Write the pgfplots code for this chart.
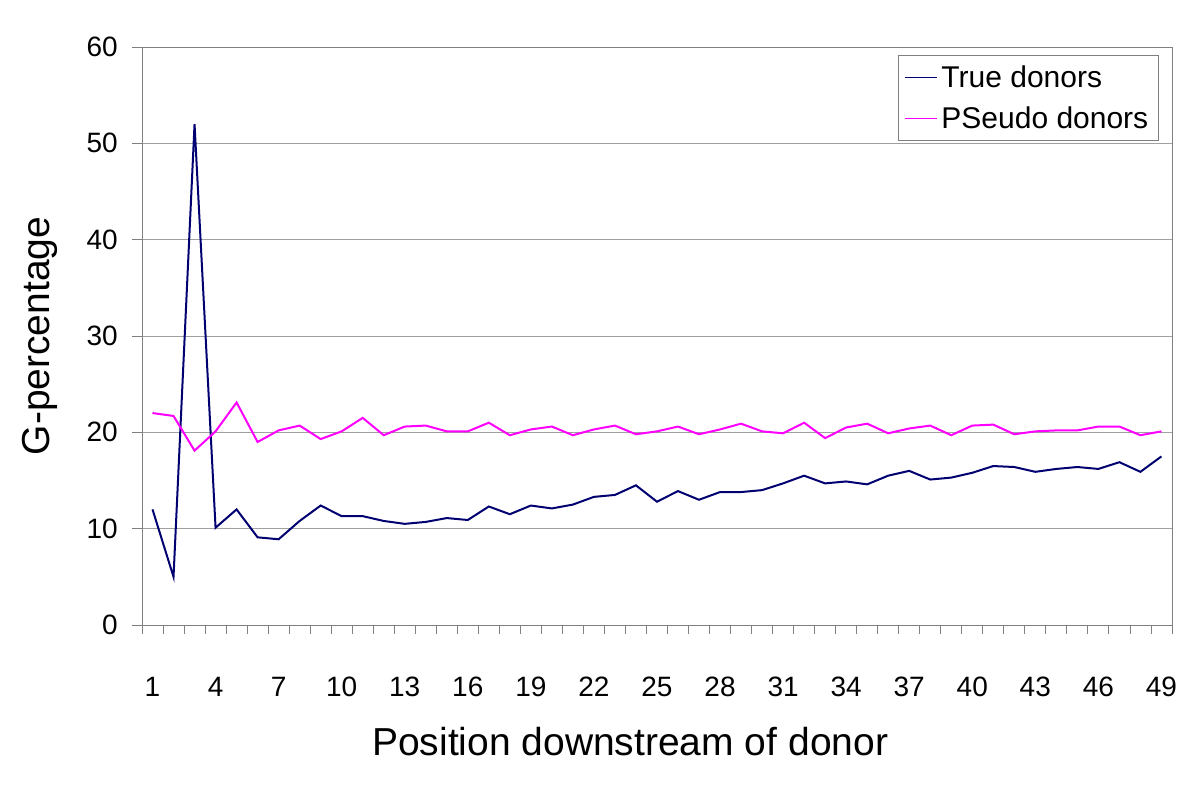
\documentclass[border=0pt]{standalone}
\usepackage{pgfplots}
\pgfplotsset{compat=1.18}
\usepackage{fontspec}
\setmainfont{Liberation Sans}
\definecolor{navyline}{HTML}{000070}
\definecolor{magline}{HTML}{FF00FF}
\definecolor{gridc}{HTML}{A0A0A0}
\definecolor{axc}{HTML}{808080}
\pgfplotstableread{
x true pseudo
1 12.0 22.0
2 5.0 21.7
3 52.0 18.1
4 10.1 20.1
5 12.0 23.1
6 9.1 19.0
7 8.9 20.2
8 10.8 20.7
9 12.4 19.3
10 11.3 20.1
11 11.3 21.5
12 10.8 19.7
13 10.5 20.6
14 10.7 20.7
15 11.1 20.1
16 10.9 20.1
17 12.3 21.0
18 11.5 19.7
19 12.4 20.3
20 12.1 20.6
21 12.5 19.7
22 13.3 20.3
23 13.5 20.7
24 14.5 19.8
25 12.8 20.1
26 13.9 20.6
27 13.0 19.8
28 13.8 20.3
29 13.8 20.9
30 14.0 20.1
31 14.7 19.9
32 15.5 21.0
33 14.7 19.4
34 14.9 20.5
35 14.6 20.9
36 15.5 19.9
37 16.0 20.4
38 15.1 20.7
39 15.3 19.7
40 15.8 20.7
41 16.5 20.8
42 16.4 19.8
43 15.9 20.1
44 16.2 20.2
45 16.4 20.2
46 16.2 20.6
47 16.9 20.6
48 15.9 19.7
49 17.5 20.1
}\datatable
\begin{document}
\begin{tikzpicture}
\begin{axis}[
  scale only axis,
  width=1030pt, height=578pt,
  xmin=0.5, xmax=49.5,
  ymin=0, ymax=60,
  xtick={1,4,...,49},
  minor xtick={0.5,1.5,...,49.5},
  ytick={0,10,...,60},
  xtick pos=bottom, ytick pos=left,
  tick align=outside,
  major tick length=10pt,
  minor tick length=9pt,
  every tick/.style={axc, line width=0.8pt},
  every major x tick/.style={draw=none},
  ymajorgrids,
  grid style={gridc, line width=0.8pt},
  axis line style={axc, line width=0.8pt},
  /pgf/number format/assume math mode=true,
  tick label style={font=\fontsize{28}{32}\selectfont},
  xticklabel style={anchor=north, inner sep=0pt, yshift=-42pt},
  yticklabel style={anchor=east, inner sep=0pt, xshift=-14pt},
  every axis y label/.style={at={(axis description cs:-0.099,0.5)}, rotate=90, anchor=center, inner sep=0pt, font=\fontsize{39}{44}\selectfont},
  every axis x label/.style={at={(axis description cs:0.474,-0.1765)}, anchor=north, inner sep=0pt, font=\fontsize{39}{44}\selectfont},
  xlabel={Position downstream of donor},
  ylabel={G-percentage},
  legend style={at={(axis description cs:0.734,0.986)}, anchor=north west, draw=axc, line width=0.8pt,
    font=\fontsize{30}{34}\selectfont, inner xsep=6pt, inner ysep=10pt, row sep=18pt,
    nodes={inner xsep=4pt, inner ysep=0pt}},
  legend cell align=left,
  legend image code/.code={\draw[#1, line width=1.1pt] (0pt,0pt) -- (32pt,0pt);},
]
\addplot[navyline, line width=2pt] table[x=x, y=true] {\datatable};
\addlegendentry{True donors}
\addplot[magline, line width=2pt] table[x=x, y=pseudo] {\datatable};
\addlegendentry{PSeudo donors}
\end{axis}
\path[use as bounding box] (current axis.south west) ++(-142pt,-164pt) rectangle ++(1199pt,789pt);
\end{tikzpicture}
\end{document}
